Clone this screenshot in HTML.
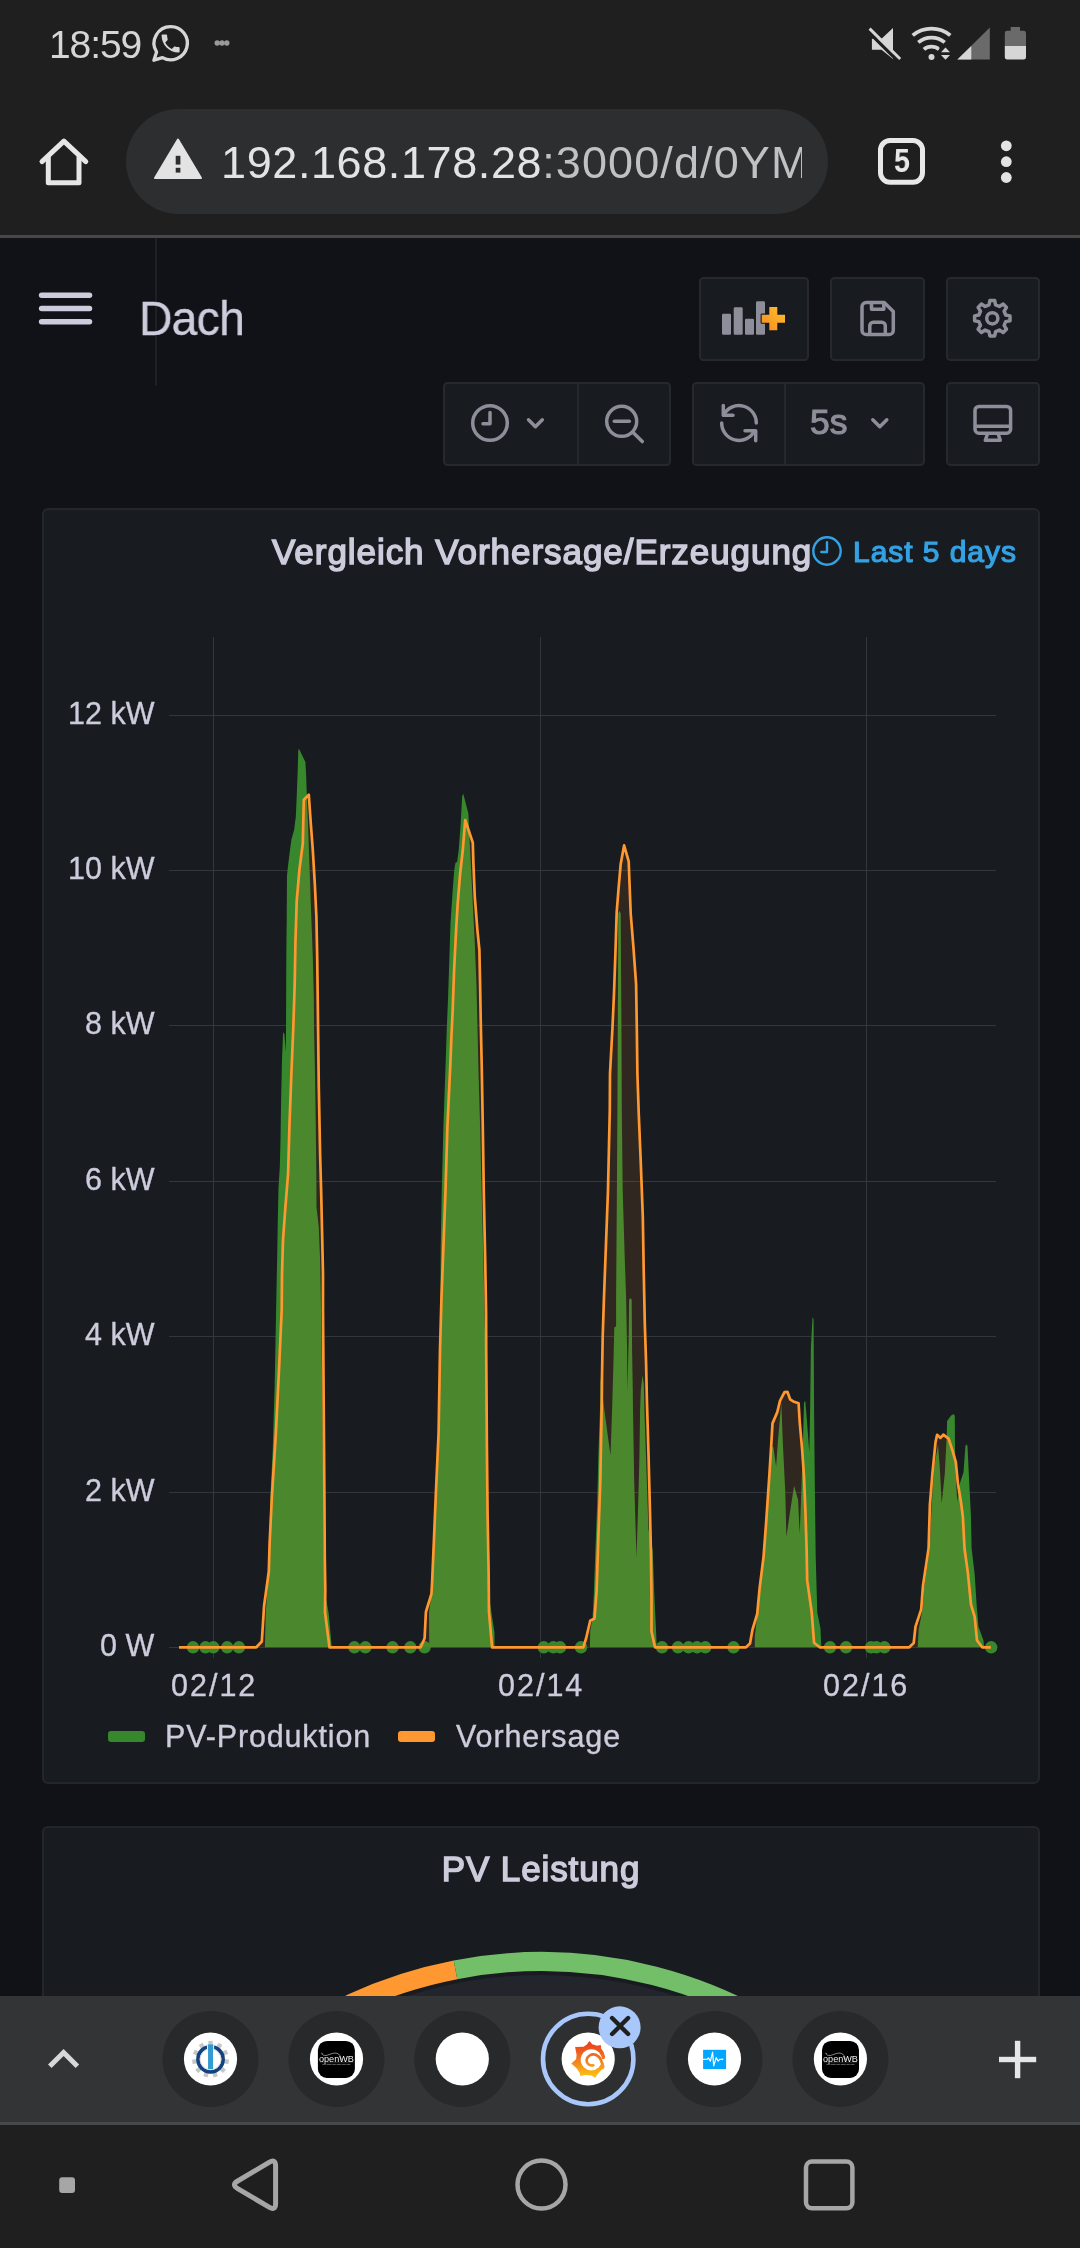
<!DOCTYPE html>
<html lang="de">
<head>
<meta charset="utf-8">
<title>Dach - Grafana</title>
<style>
html,body{margin:0;padding:0;}
body{width:1080px;height:2248px;position:relative;overflow:hidden;background:#111217;font-family:"Liberation Sans",sans-serif;color:#ccccdc;}
.abs{position:absolute;}
.t{position:absolute;white-space:nowrap;line-height:1;will-change:transform;}
.yl,.xl,#leg1,#leg2{-webkit-text-stroke:0.35px #ccccdc;}
#chrome{left:0;top:0;width:1080px;height:235px;background:#1f1f1f;}
#chromeline{left:0;top:235px;width:1080px;height:3px;background:#464746;}
#pill{left:126px;top:109px;width:702px;height:105px;border-radius:53px;background:#2d2e30;overflow:hidden;}
.btn{position:absolute;box-sizing:border-box;background:#181b1f;border:2px solid #25282e;border-radius:4.5px;}
.panel{position:absolute;box-sizing:border-box;background:#181b1f;border:2px solid #23262d;border-radius:6px;}
#tabbar{left:0;top:1996px;width:1080px;height:126px;background:#333436;}
#tabline{left:0;top:2122px;width:1080px;height:3px;background:#47484a;}
#navbar{left:0;top:2125px;width:1080px;height:123px;background:#1f1f1f;}
svg{position:absolute;left:0;top:0;overflow:visible;will-change:transform;}
</style>
</head>
<body>

<!-- ===== Browser chrome ===== -->
<div id="chrome" class="abs"></div>
<div id="chromeline" class="abs"></div>
<div id="pill" class="abs"></div>

<div class="t" id="clock" style="left:49px;top:25px;font-size:39px;color:#d6d6d6;letter-spacing:-1.1px;">18:59</div>
<div class="t" id="url" style="left:221px;top:140px;width:581px;overflow:hidden;font-size:45px;color:#e3e3e3;letter-spacing:0.6px;">192.168.178.28<span style="color:#bfc1c3;letter-spacing:1.1px;">:3000/d/0YMabc</span></div>
<div class="t" id="tabcount" style="left:886.5px;top:143.5px;width:30px;text-align:center;font-size:33px;font-weight:bold;color:#e8e8e8;transform:scaleX(0.86);">5</div>

<!-- ===== Grafana header ===== -->
<div class="abs" style="left:155px;top:238px;width:2px;height:148px;background:#1e2025;"></div>
<div class="t" id="dach" style="left:139px;top:293.5px;font-size:49px;color:#ccccdc;letter-spacing:-0.8px;-webkit-text-stroke:0.4px #ccccdc;transform:scaleX(0.945);transform-origin:0 0;">Dach</div>

<div class="btn" style="left:699px;top:277px;width:110px;height:84px;"></div>
<div class="btn" style="left:830px;top:277px;width:95px;height:84px;"></div>
<div class="btn" style="left:946px;top:277px;width:94px;height:84px;"></div>

<div class="btn" style="left:443px;top:382px;width:228px;height:84px;"></div>
<div class="abs" style="left:577px;top:384px;width:2px;height:80px;background:#25282e;"></div>
<div class="btn" style="left:692px;top:382px;width:233px;height:84px;"></div>
<div class="abs" style="left:784px;top:384px;width:2px;height:80px;background:#25282e;"></div>
<div class="btn" style="left:946px;top:382px;width:94px;height:84px;"></div>
<div class="t" id="fives" style="left:809.5px;top:405px;font-size:35.5px;color:#8d8e9a;-webkit-text-stroke:1.1px #8d8e9a;">5s</div>

<!-- ===== Panel 1 ===== -->
<div class="panel" style="left:42px;top:508px;width:998px;height:1276px;"></div>
<div class="t" id="ptitle" style="left:272px;top:534px;font-size:35px;letter-spacing:0.95px;-webkit-text-stroke:1.5px #ccccdc;color:#ccccdc;">Vergleich Vorhersage/Erzeugung</div>
<div class="t" id="last5" style="left:853px;top:537px;font-size:30px;letter-spacing:0.95px;-webkit-text-stroke:1.2px #33a2e5;color:#33a2e5;">Last 5 days</div>

<div class="t yl" style="right:926px;top:698px;font-size:30.5px;">12 kW</div>
<div class="t yl" style="right:926px;top:853px;font-size:30.5px;">10 kW</div>
<div class="t yl" style="right:926px;top:1008px;font-size:30.5px;">8 kW</div>
<div class="t yl" style="right:926px;top:1164px;font-size:30.5px;">6 kW</div>
<div class="t yl" style="right:926px;top:1319px;font-size:30.5px;">4 kW</div>
<div class="t yl" style="right:926px;top:1475px;font-size:30.5px;">2 kW</div>
<div class="t yl" style="right:926px;top:1630px;font-size:30.5px;">0 W</div>

<div class="t xl" style="left:171px;top:1670px;font-size:30.5px;letter-spacing:2px;">02/12</div>
<div class="t xl" style="left:498px;top:1670px;font-size:30.5px;letter-spacing:2px;">02/14</div>
<div class="t xl" style="left:823px;top:1670px;font-size:30.5px;letter-spacing:2px;">02/16</div>

<div class="abs" style="left:108px;top:1731px;width:36.5px;height:11px;border-radius:3px;background:#37872d;"></div>
<div class="t" id="leg1" style="left:165px;top:1721px;font-size:30.5px;letter-spacing:0.85px;">PV-Produktion</div>
<div class="abs" style="left:398px;top:1731px;width:36.5px;height:11px;border-radius:3px;background:#ff9830;"></div>
<div class="t" id="leg2" style="left:456px;top:1721px;font-size:30.5px;letter-spacing:0.9px;">Vorhersage</div>

<!-- ===== Panel 2 ===== -->
<div class="panel" style="left:42px;top:1826px;width:998px;height:400px;"></div>
<div class="t" id="p2title" style="left:341px;width:400px;text-align:center;top:1851px;font-size:35px;letter-spacing:0.9px;-webkit-text-stroke:1.5px #ccccdc;color:#ccccdc;">PV Leistung</div>

<!-- CHART-START -->
<svg id="chart" width="1080" height="2248" viewBox="0 0 1080 2248">
<g stroke="#33363a" stroke-width="1" fill="none" shape-rendering="crispEdges">
<path d="M168.5,715.5H996"/>
<path d="M168.5,870.5H996"/>
<path d="M168.5,1025.5H996"/>
<path d="M168.5,1181.5H996"/>
<path d="M168.5,1336.5H996"/>
<path d="M168.5,1492.5H996"/>
<path d="M168.5,1647.5H996"/>
<path d="M213.5,637V1658"/>
<path d="M540.5,637V1658"/>
<path d="M866.5,637V1658"/>
</g>
<g fill="#37872d">
<polygon points="264.9,1647.3 265.7,1613.5 268.5,1574.6 270.4,1496.8 272.7,1450.0 274.6,1387.8 276.1,1310.0 277.1,1260.0 277.8,1220.0 278.5,1187.0 279.8,1167.0 280.5,1140.0 281.1,1100.0 282.0,1060.0 283.1,1032.3 284.4,1034.0 285.7,1052.0 286.0,1030.0 286.3,957.0 286.7,917.0 287.0,875.5 288.0,866.0 290.0,850.0 291.4,839.5 294.1,830.0 295.8,816.8 296.7,796.8 297.7,770.0 298.3,750.0 299.1,749.1 305.4,762.0 306.1,774.0 306.8,794.0 308.0,823.5 309.4,863.5 310.8,903.6 312.8,957.0 313.8,997.0 314.1,1030.0 315.0,1073.0 315.8,1127.0 316.4,1180.0 316.5,1207.0 318.8,1227.0 320.1,1260.0 321.2,1320.0 322.5,1403.0 323.2,1496.8 323.8,1559.0 324.5,1590.0 328.7,1613.5 331.5,1644.6 331.7,1647.3"/>
<polygon points="429.2,1647.3 429.0,1612.0 431.0,1598.0 432.0,1584.5 433.8,1543.0 436.1,1488.0 438.6,1432.8 440.0,1350.0 440.5,1287.0 440.7,1247.0 441.7,1193.5 443.4,1126.8 445.4,1070.0 446.7,1030.0 448.1,997.0 449.4,957.0 450.5,923.5 452.7,890.0 454.1,871.5 455.4,862.8 457.1,862.0 458.7,850.0 460.7,823.4 462.1,796.7 463.2,793.4 468.4,813.4 468.8,823.4 469.4,836.8 470.8,863.5 472.8,903.5 474.8,943.6 476.4,983.6 477.4,1023.7 478.5,1070.0 480.1,1126.8 481.7,1193.5 483.4,1260.0 484.8,1327.0 486.0,1350.0 486.7,1446.5 487.4,1515.5 488.4,1570.7 489.5,1600.0 494.5,1632.8 494.5,1647.3"/>
<polygon points="589.9,1647.3 590.2,1631.0 592.5,1618.5 593.7,1596.5 595.4,1550.3 597.2,1504.0 598.3,1457.8 600.3,1400.0 600.4,1377.0 602.5,1395.0 604.7,1412.7 610.5,1455.5 612.1,1410.0 613.4,1363.7 614.3,1327.6 616.1,1326.3 616.1,1297.0 616.7,1216.8 617.4,1110.0 618.3,913.5 619.4,910.8 620.7,913.5 621.4,1020.0 621.8,1110.0 622.7,1190.0 624.7,1257.0 626.1,1297.0 627.1,1350.0 627.4,1391.7 628.7,1337.0 629.1,1299.6 630.3,1298.3 631.7,1299.6 632.1,1350.3 632.8,1390.4 633.0,1410.0 634.2,1481.0 636.5,1557.2 638.2,1504.0 639.4,1457.8 640.1,1410.0 640.8,1390.4 642.5,1375.3 643.8,1383.7 644.4,1410.0 648.5,1529.5 652.7,1550.0 654.4,1596.5 656.1,1631.2 656.7,1647.3"/>
<polygon points="754.8,1647.3 754.8,1636.4 757.5,1614.0 759.9,1588.4 763.9,1556.3 766.3,1524.3 769.6,1476.2 771.6,1448.0 773.3,1446.6 776.1,1466.6 778.0,1440.0 781.3,1402.5 782.9,1444.2 785.3,1492.2 786.4,1537.1 790.0,1512.0 794.1,1485.8 798.1,1500.0 799.7,1533.9 801.3,1492.0 802.9,1444.2 804.0,1402.5 805.3,1400.9 806.5,1415.0 809.3,1452.2 810.1,1412.0 810.9,1348.0 812.5,1317.3 813.6,1319.2 814.1,1412.0 814.9,1492.2 815.7,1556.3 817.3,1612.4 820.5,1628.4 821.3,1647.3"/>
<polygon points="917.7,1647.3 918.7,1629.2 922.6,1609.3 924.3,1585.6 929.8,1548.2 931.1,1517.0 932.6,1490.0 934.2,1467.2 938.0,1444.8 939.8,1467.2 941.7,1503.4 944.8,1473.5 946.7,1436.1 947.1,1421.1 951.1,1415.5 953.8,1413.9 954.8,1416.1 955.0,1449.8 956.0,1480.0 957.3,1502.1 959.8,1483.4 963.5,1472.2 965.4,1446.0 966.4,1444.2 967.5,1446.0 969.1,1479.7 971.0,1517.1 971.6,1548.2 974.7,1574.4 976.6,1604.3 978.5,1626.7 983.5,1640.4 984.1,1647.3"/>
<circle cx="193" cy="1647.3" r="6.2"/>
<circle cx="205.5" cy="1647.3" r="6.2"/>
<circle cx="213.3" cy="1647.3" r="6.2"/>
<circle cx="227.2" cy="1647.3" r="6.2"/>
<circle cx="238.9" cy="1647.3" r="6.2"/>
<circle cx="354.4" cy="1647.3" r="6.2"/>
<circle cx="365.4" cy="1647.3" r="6.2"/>
<circle cx="392.5" cy="1647.3" r="6.2"/>
<circle cx="410.3" cy="1647.3" r="6.2"/>
<circle cx="424.6" cy="1647.3" r="6.2"/>
<circle cx="543.8" cy="1647.3" r="6.2"/>
<circle cx="553.3" cy="1647.3" r="6.2"/>
<circle cx="560" cy="1647.3" r="6.2"/>
<circle cx="581" cy="1647.3" r="6.2"/>
<circle cx="662" cy="1647.3" r="6.2"/>
<circle cx="678" cy="1647.3" r="6.2"/>
<circle cx="688.5" cy="1647.3" r="6.2"/>
<circle cx="697" cy="1647.3" r="6.2"/>
<circle cx="705.3" cy="1647.3" r="6.2"/>
<circle cx="733.5" cy="1647.3" r="6.2"/>
<circle cx="830" cy="1647.3" r="6.2"/>
<circle cx="846" cy="1647.3" r="6.2"/>
<circle cx="871" cy="1647.3" r="6.2"/>
<circle cx="876.4" cy="1647.3" r="6.2"/>
<circle cx="884.4" cy="1647.3" r="6.2"/>
<circle cx="991.2" cy="1647.3" r="6.2"/>
</g>
<polygon fill="#ff9830" fill-opacity="0.1" points="179.0,1647.3 256.3,1647.3 261.8,1641.5 262.6,1629.0 264.1,1605.7 268.8,1571.5 269.6,1543.5 271.9,1496.8 275.8,1434.5 278.9,1372.0 281.7,1310.0 282.0,1273.7 283.0,1240.0 285.4,1207.0 288.1,1173.5 289.4,1127.0 291.4,1073.0 293.4,1025.0 294.7,983.7 295.4,943.6 296.7,901.0 299.4,870.0 302.8,843.5 303.8,799.8 308.8,794.8 310.8,823.5 312.8,850.0 314.8,883.5 316.4,917.0 317.2,957.0 317.7,997.0 318.1,1030.0 318.8,1086.8 320.1,1153.5 321.2,1193.6 322.1,1233.6 323.0,1273.7 323.0,1310.0 323.7,1403.0 324.4,1496.8 324.8,1559.0 325.3,1590.0 325.0,1612.0 329.5,1647.3 420.7,1647.3 424.6,1638.3 425.9,1612.0 431.4,1594.0 432.0,1584.5 433.8,1543.0 436.1,1488.0 438.6,1432.8 440.0,1350.0 441.4,1300.0 443.4,1247.0 445.4,1193.5 447.4,1126.8 450.3,1065.0 451.4,1037.0 452.7,1010.0 454.1,970.0 456.1,930.0 457.7,903.5 460.1,874.0 462.8,850.0 465.2,820.0 472.8,842.8 473.4,863.5 474.8,896.8 477.4,930.0 479.4,950.0 480.1,983.6 480.8,1023.7 481.7,1065.0 482.8,1126.8 483.8,1193.5 485.2,1260.0 486.1,1313.7 486.2,1350.0 486.9,1446.5 487.6,1515.5 488.6,1570.7 489.0,1612.0 492.1,1647.3 583.3,1647.3 586.2,1638.0 590.2,1620.8 594.5,1618.5 596.6,1590.8 598.3,1538.7 600.3,1481.0 601.8,1400.0 602.0,1377.0 602.7,1337.0 604.0,1297.0 606.0,1243.5 608.0,1190.0 609.8,1110.0 610.0,1073.7 612.5,1027.0 614.0,993.6 615.4,953.5 616.7,912.0 618.7,886.8 620.7,864.0 624.1,845.4 628.7,861.4 629.4,880.0 630.7,913.5 633.4,946.8 636.1,984.2 636.8,1027.0 637.4,1073.7 638.8,1115.0 640.8,1163.4 642.8,1216.8 643.7,1270.0 644.8,1323.6 646.1,1363.7 646.9,1400.0 648.6,1457.8 649.8,1504.0 650.9,1550.3 651.5,1596.5 651.5,1631.2 655.0,1647.3 746.0,1647.3 750.0,1643.6 752.4,1630.0 757.2,1614.0 759.6,1588.4 763.6,1556.3 766.0,1524.3 769.3,1476.2 771.3,1444.2 772.5,1423.4 777.3,1412.1 780.0,1400.9 784.5,1392.1 787.4,1391.8 790.1,1399.3 793.3,1401.4 798.6,1403.3 799.7,1421.8 802.1,1449.0 804.0,1476.2 805.3,1508.3 806.6,1548.3 807.2,1580.4 811.7,1612.4 814.1,1642.8 819.7,1647.3 909.3,1647.3 913.7,1643.0 915.5,1626.7 921.2,1609.3 923.0,1585.6 928.6,1548.2 929.9,1504.6 932.4,1473.5 935.5,1442.3 937.1,1434.8 940.5,1437.9 943.3,1434.6 948.6,1438.6 952.3,1449.8 955.8,1462.2 957.9,1483.4 961.0,1502.1 962.9,1517.1 964.5,1548.2 967.9,1573.1 971.0,1604.3 974.7,1616.8 977.0,1640.4 982.2,1647.3 990.9,1647.3"/>
<polyline fill="none" stroke="#ff9830" stroke-width="2.7" stroke-linejoin="round" stroke-linecap="butt" points="179.0,1647.3 256.3,1647.3 261.8,1641.5 262.6,1629.0 264.1,1605.7 268.8,1571.5 269.6,1543.5 271.9,1496.8 275.8,1434.5 278.9,1372.0 281.7,1310.0 282.0,1273.7 283.0,1240.0 285.4,1207.0 288.1,1173.5 289.4,1127.0 291.4,1073.0 293.4,1025.0 294.7,983.7 295.4,943.6 296.7,901.0 299.4,870.0 302.8,843.5 303.8,799.8 308.8,794.8 310.8,823.5 312.8,850.0 314.8,883.5 316.4,917.0 317.2,957.0 317.7,997.0 318.1,1030.0 318.8,1086.8 320.1,1153.5 321.2,1193.6 322.1,1233.6 323.0,1273.7 323.0,1310.0 323.7,1403.0 324.4,1496.8 324.8,1559.0 325.3,1590.0 325.0,1612.0 329.5,1647.3 420.7,1647.3 424.6,1638.3 425.9,1612.0 431.4,1594.0 432.0,1584.5 433.8,1543.0 436.1,1488.0 438.6,1432.8 440.0,1350.0 441.4,1300.0 443.4,1247.0 445.4,1193.5 447.4,1126.8 450.3,1065.0 451.4,1037.0 452.7,1010.0 454.1,970.0 456.1,930.0 457.7,903.5 460.1,874.0 462.8,850.0 465.2,820.0 472.8,842.8 473.4,863.5 474.8,896.8 477.4,930.0 479.4,950.0 480.1,983.6 480.8,1023.7 481.7,1065.0 482.8,1126.8 483.8,1193.5 485.2,1260.0 486.1,1313.7 486.2,1350.0 486.9,1446.5 487.6,1515.5 488.6,1570.7 489.0,1612.0 492.1,1647.3 583.3,1647.3 586.2,1638.0 590.2,1620.8 594.5,1618.5 596.6,1590.8 598.3,1538.7 600.3,1481.0 601.8,1400.0 602.0,1377.0 602.7,1337.0 604.0,1297.0 606.0,1243.5 608.0,1190.0 609.8,1110.0 610.0,1073.7 612.5,1027.0 614.0,993.6 615.4,953.5 616.7,912.0 618.7,886.8 620.7,864.0 624.1,845.4 628.7,861.4 629.4,880.0 630.7,913.5 633.4,946.8 636.1,984.2 636.8,1027.0 637.4,1073.7 638.8,1115.0 640.8,1163.4 642.8,1216.8 643.7,1270.0 644.8,1323.6 646.1,1363.7 646.9,1400.0 648.6,1457.8 649.8,1504.0 650.9,1550.3 651.5,1596.5 651.5,1631.2 655.0,1647.3 746.0,1647.3 750.0,1643.6 752.4,1630.0 757.2,1614.0 759.6,1588.4 763.6,1556.3 766.0,1524.3 769.3,1476.2 771.3,1444.2 772.5,1423.4 777.3,1412.1 780.0,1400.9 784.5,1392.1 787.4,1391.8 790.1,1399.3 793.3,1401.4 798.6,1403.3 799.7,1421.8 802.1,1449.0 804.0,1476.2 805.3,1508.3 806.6,1548.3 807.2,1580.4 811.7,1612.4 814.1,1642.8 819.7,1647.3 909.3,1647.3 913.7,1643.0 915.5,1626.7 921.2,1609.3 923.0,1585.6 928.6,1548.2 929.9,1504.6 932.4,1473.5 935.5,1442.3 937.1,1434.8 940.5,1437.9 943.3,1434.6 948.6,1438.6 952.3,1449.8 955.8,1462.2 957.9,1483.4 961.0,1502.1 962.9,1517.1 964.5,1548.2 967.9,1573.1 971.0,1604.3 974.7,1616.8 977.0,1640.4 982.2,1647.3 990.9,1647.3"/>
</svg>
<!-- CHART-END -->

<!-- GAUGE-START -->
<svg id="gauge" width="1080" height="2248" viewBox="0 0 1080 2248">
<circle cx="541.5" cy="2412" r="390" fill="none" stroke="#22252b" stroke-width="94"/>
<path d="M251.9,2066.9 A450.5,450.5 0 0 1 455.5,1969.8" fill="none" stroke="#ff9830" stroke-width="19"/>
<path d="M455.5,1969.8 A450.5,450.5 0 0 1 831.1,2066.9" fill="none" stroke="#73bf69" stroke-width="19"/>
</svg>
<!-- GAUGE-END -->

<!-- ===== Bottom bars ===== -->
<div id="tabbar" class="abs"></div>
<div id="tabline" class="abs"></div>
<div id="navbar" class="abs"></div>

<!-- ICONS-START -->
<svg id="icons" width="1080" height="2248" viewBox="0 0 1080 2248">
<defs><linearGradient id="pg" x1="0" y1="1" x2="1" y2="0"><stop offset="0" stop-color="#f58b1f"/><stop offset="1" stop-color="#fdc12f"/></linearGradient><linearGradient id="gg" x1="0" y1="0" x2="0" y2="1"><stop offset="0" stop-color="#ef4e23"/><stop offset="0.55" stop-color="#f78d1e"/><stop offset="1" stop-color="#fcd20b"/></linearGradient></defs>
<g><path d="M170.8,26.6a16.6,16.6 0 1 1 -8.3,31l-8.6,2.6 2.7,-8.2a16.6,16.6 0 0 1 14.2,-25.4z" fill="none" stroke="#d6d6d6" stroke-width="3.3" stroke-linejoin="round"/><path transform="translate(158.6,31.6) scale(1)" fill="#d6d6d6" d="M6.62 10.79c1.44 2.83 3.76 5.14 6.59 6.59l2.2-2.2c.27-.27.67-.36 1.02-.24 1.12.37 2.33.57 3.57.57.55 0 1 .45 1 1V20c0 .55-.45 1-1 1-9.39 0-17-7.61-17-17 0-.55.45-1 1-1h3.5c.55 0 1 .45 1 1 0 1.25.2 2.45.57 3.57.11.35.03.74-.25 1.02l-2.2 2.2z"/></g>
<g fill="#9a9a9a"><circle cx="217.2" cy="43" r="2.7"/><circle cx="222" cy="43" r="2.7"/><circle cx="226.8" cy="43" r="2.7"/></g>
<g><polygon fill="#d6d6d6" points="871.9,38.7 881.5,38.7 893,27.9 893,59 881.5,49.8 871.9,49.8"/><path d="M867.7,31L898.4,61.5" stroke="#1f1f1f" stroke-width="3.2"/><path d="M869.6,28.6L900.2,59" stroke="#d6d6d6" stroke-width="2.9"/></g>
<g fill="none" stroke="#d6d6d6" stroke-width="3.8"><path d="M912.7,35.4A29.5,29.5 0 0 1 950.3,35.4"/><path d="M918.3,42.4A20.6,20.6 0 0 1 944.7,42.4"/><path d="M923.9,49.4A11.6,11.6 0 0 1 939.1,49.4"/></g>
<circle cx="931.5" cy="57" r="3" fill="#d6d6d6"/>
<rect x="939.5" y="45.5" width="13" height="16" fill="#1f1f1f"/>
<polygon fill="#d6d6d6" points="941,52.3 950,52.3 945.5,47.6"/><polygon fill="#d6d6d6" points="941,55 950,55 945.5,59.7"/>
<polygon fill="#6a6a6a" points="957.4,59.6 989.8,59.6 989.8,27.6"/><polygon fill="#d6d6d6" points="957.4,59.6 971.3,59.6 971.3,45.9"/>
<path fill="#6a6a6a" d="M1010.7,27h9.3v3.7h3.6a2.4,2.4 0 0 1 2.4,2.4V46.1H1004.8V33.1a2.4,2.4 0 0 1 2.4,-2.4h3.5z"/><path fill="#d6d6d6" d="M1004.8,46.1H1026V57.2a2.4,2.4 0 0 1 -2.4,2.4H1007.2a2.4,2.4 0 0 1 -2.4,-2.4z"/>
<g fill="none" stroke="#e6e6e6" stroke-width="5" stroke-linecap="round" stroke-linejoin="round"><path d="M42,161.6L63.9,141.2L85.8,161.6"/><path d="M48.3,157.5V182.7H79V157.5"/></g>
<path fill="#e3e3e3" stroke="#e3e3e3" stroke-width="2" stroke-linejoin="round" d="M178,139.5L201,177.9H155z"/><rect x="175.7" y="155.8" width="4.7" height="8.8" fill="#2d2e30"/><rect x="175.7" y="167.8" width="4.7" height="4.8" fill="#2d2e30"/>
<rect x="880.5" y="140.6" width="42" height="41.6" rx="9.5" fill="none" stroke="#e8e8e8" stroke-width="5"/>
<g fill="#e3e3e3"><circle cx="1006.3" cy="145.8" r="5.4"/><circle cx="1006.3" cy="161.7" r="5.4"/><circle cx="1006.3" cy="177.5" r="5.4"/></g>
<g stroke="#ccccdc" stroke-width="5.5" stroke-linecap="round"><path d="M41.6,295.3H89.5"/><path d="M41.6,308.6H89.5"/><path d="M41.6,321.8H89.5"/></g>
<g fill="#8d8e9a"><rect x="722" y="313.7" width="9" height="21" rx="1.3"/><rect x="733.7" y="307.3" width="9" height="27.4" rx="1.3"/><rect x="745" y="318.7" width="9" height="16" rx="1.3"/><rect x="756" y="301.3" width="9" height="33.4" rx="1.3"/></g>
<path d="M769.3,307h8v7.7h7.7v8h-7.7v7.6h-8v-7.6h-7.6v-8h7.6z" fill="url(#pg)" stroke="#181b1f" stroke-width="2.2" stroke-linejoin="round" paint-order="stroke"/>
<g fill="none" stroke="#8d8e9a" stroke-width="3.5" stroke-linejoin="round" stroke-linecap="round"><path d="M866.3,302.5H884.2L893.3,311.6V330.2a4.3,4.3 0 0 1 -4.3,4.3H866.3a4.3,4.3 0 0 1 -4.3,-4.3V306.8a4.3,4.3 0 0 1 4.3,-4.3z"/><path d="M871.5,302.8V309.3H883.8V302.8"/><path d="M869.8,334.3V325.8a3.5,3.5 0 0 1 3.5,-3.5h8.5a3.5,3.5 0 0 1 3.5,3.5V334.3"/></g>
<path d="M989,304.9 L989.9,300.6 L994.7,300.6 L995.6,304.9 L999.4,306.5 L1003.2,304.1 L1006.5,307.4 L1004.1,311.2 L1005.7,315 L1010,315.9 L1010,320.7 L1005.7,321.6 L1004.1,325.4 L1006.5,329.2 L1003.2,332.5 L999.4,330.1 L995.6,331.7 L994.7,336 L989.9,336 L989,331.7 L985.2,330.1 L981.4,332.5 L978.1,329.2 L980.5,325.4 L978.9,321.6 L974.6,320.7 L974.6,315.9 L978.9,315 L980.5,311.2 L978.1,307.4 L981.4,304.1 L985.2,306.5Z" fill="none" stroke="#8d8e9a" stroke-width="3.5" stroke-linejoin="round"/><circle cx="992.3" cy="318.3" r="5.6" fill="none" stroke="#8d8e9a" stroke-width="3.5"/>
<g fill="none" stroke="#8d8e9a" stroke-width="3.5" stroke-linecap="round" stroke-linejoin="round"><circle cx="490" cy="423" r="17.3"/><path d="M490,412.5V423.8H483"/><path d="M528.5,419.8L535.4,426.7L542.3,419.8"/>
<circle cx="621.7" cy="421.3" r="15"/><path d="M614.3,421.3H629.3"/><path d="M632.8,432.3L642.3,441.6"/>
<path d="M723.6,415A17.3,17.3 0 0 1 756.3,423"/><path d="M723.3,405.6V415.3H733"/><path d="M721.7,423A17.3,17.3 0 0 0 754.4,431"/><path d="M745,430.7H755.7V440.8"/>
<path d="M872.8,419.8L879.8,426.7L886.8,419.8"/>
<rect x="975" y="406.4" width="35.6" height="26.8" rx="4"/><path d="M975,426.3H1010.6" stroke-linecap="butt"/><path d="M987.3,434.5L985.3,440.3H1000.3L998.3,434.5"/></g>
<g fill="none" stroke="#33a2e5" stroke-width="2.4" stroke-linecap="round" stroke-linejoin="round"><circle cx="827" cy="551" r="13.7"/><path d="M827,542.3V552H821.3"/></g>
<path d="M49.8,2066.3L63.6,2052.5L77.4,2066.3" fill="none" stroke="#d8d8d8" stroke-width="5"/>
<circle cx="210.5" cy="2059" r="48" fill="#28292b"/><circle cx="210.5" cy="2059" r="26.6" fill="#fff"/>
<circle cx="336.5" cy="2059" r="48" fill="#28292b"/><circle cx="336.5" cy="2059" r="26.6" fill="#fff"/>
<circle cx="462.3" cy="2059" r="48" fill="#28292b"/><circle cx="462.3" cy="2059" r="26.6" fill="#fff"/>
<circle cx="714.5" cy="2059" r="48" fill="#28292b"/><circle cx="714.5" cy="2059" r="26.6" fill="#fff"/>
<circle cx="840.4" cy="2059" r="48" fill="#28292b"/><circle cx="840.4" cy="2059" r="26.6" fill="#fff"/>
<circle cx="588.2" cy="2059" r="45.2" fill="#2e2f31" stroke="#a8c7fa" stroke-width="4.6"/><circle cx="588.2" cy="2059" r="26.6" fill="#fff"/>
<circle cx="619.6" cy="2027.3" r="21" fill="#a8c7fa"/><path d="M612.1,2018L628.1,2034M628.1,2018L612.1,2034" stroke="#1f1f1f" stroke-width="4.4" stroke-linecap="round"/>
<rect x="208.35" y="2040.9" width="4.4" height="4.6" fill="#c6c6c6" transform="rotate(0 210.55 2059.3)"/>
<rect x="208.35" y="2040.9" width="4.4" height="4.6" fill="#c6c6c6" transform="rotate(32.73 210.55 2059.3)"/>
<rect x="208.35" y="2040.9" width="4.4" height="4.6" fill="#c6c6c6" transform="rotate(65.45 210.55 2059.3)"/>
<rect x="208.35" y="2040.9" width="4.4" height="4.6" fill="#c6c6c6" transform="rotate(98.18 210.55 2059.3)"/>
<rect x="208.35" y="2040.9" width="4.4" height="4.6" fill="#c6c6c6" transform="rotate(130.91 210.55 2059.3)"/>
<rect x="208.35" y="2040.9" width="4.4" height="4.6" fill="#c6c6c6" transform="rotate(163.64 210.55 2059.3)"/>
<rect x="208.35" y="2040.9" width="4.4" height="4.6" fill="#c6c6c6" transform="rotate(196.36 210.55 2059.3)"/>
<rect x="208.35" y="2040.9" width="4.4" height="4.6" fill="#c6c6c6" transform="rotate(229.09 210.55 2059.3)"/>
<rect x="208.35" y="2040.9" width="4.4" height="4.6" fill="#c6c6c6" transform="rotate(261.82 210.55 2059.3)"/>
<rect x="208.35" y="2040.9" width="4.4" height="4.6" fill="#c6c6c6" transform="rotate(294.55 210.55 2059.3)"/>
<rect x="208.35" y="2040.9" width="4.4" height="4.6" fill="#c6c6c6" transform="rotate(327.27 210.55 2059.3)"/>
<circle cx="210.55" cy="2059.3" r="12.6" fill="#fff" stroke="#12437f" stroke-width="3.6"/><circle cx="210.55" cy="2059.3" r="10.5" fill="none" stroke="#c8c8c8" stroke-width="0.7"/>
<rect x="206.95" y="2044" width="7.2" height="5.6" fill="#e6e6e6"/><rect x="208.05" y="2044.3" width="5" height="24.7" fill="#339bd2"/>
<rect x="317.9" y="2040.9" width="37" height="37" rx="9" fill="#000"/><text x="336.4" y="2061.8" font-family="Liberation Sans, sans-serif" font-size="9.1" fill="#eee" text-anchor="middle">openWB</text><path d="M321.1,2053.6c0.8,-1 1.8,-0.2 1.2,0.7c1,1.3 3,1.5 5.3,0.8c3.5,-1.2 6.5,-2.6 9.5,-1.8c2.6,0.8 3.6,3.3 4.2,6.5" fill="none" stroke="#ddd" stroke-width="0.6"/><path d="M319.4,2062.6H353.4" stroke="#444" stroke-width="0.5"/><path d="M322.4,2064.4H350.4" stroke="#7a7a7a" stroke-width="0.8" stroke-dasharray="3.5 0.7 5 0.7"/>
<rect x="822" y="2040.9" width="37" height="37" rx="9" fill="#000"/><text x="840.5" y="2061.8" font-family="Liberation Sans, sans-serif" font-size="9.1" fill="#eee" text-anchor="middle">openWB</text><path d="M825.2,2053.6c0.8,-1 1.8,-0.2 1.2,0.7c1,1.3 3,1.5 5.3,0.8c3.5,-1.2 6.5,-2.6 9.5,-1.8c2.6,0.8 3.6,3.3 4.2,6.5" fill="none" stroke="#ddd" stroke-width="0.6"/><path d="M823.5,2062.6H857.5" stroke="#444" stroke-width="0.5"/><path d="M826.5,2064.4H854.5" stroke="#7a7a7a" stroke-width="0.8" stroke-dasharray="3.5 0.7 5 0.7"/>
<linearGradient id="gg2" gradientUnits="userSpaceOnUse" x1="0" y1="2041" x2="0" y2="2078"><stop offset="0" stop-color="#e8391c"/><stop offset="0.5" stop-color="#f27a1f"/><stop offset="1" stop-color="#fccb12"/></linearGradient>
<path d="M589.4,2040.9 L592.2,2044.3 L596.9,2045.7 L600.8,2045 L601.2,2048.4 L603.7,2052.3 L605.1,2056.8 L604.6,2058.7 L603.3,2062.3 L604.7,2067.3 L600.8,2070.4 L597.7,2074 L595.2,2077.9 L591.3,2075.4 L585.2,2075 L580.2,2075.9 L579.4,2072.3 L576.3,2067.9 L571.3,2063.4 L576.1,2059.3 L576.6,2055.1 L575.1,2047.1 L583.6,2046.8 L586.9,2044.6Z" fill="url(#gg2)"/>
<circle cx="591.3" cy="2059.8" r="10.6" fill="#fff"/>
<path d="M601.1,2059 L604.9,2058.9 L605.3,2060.1 L603.4,2062.4 L601.3,2063.2Z" fill="#fff"/>
<path d="M602.7,2067.9 C602.4,2062.3 600.2,2056.8 595.8,2054.8 C591.3,2053.4 586.9,2056.2 586.6,2060.4 C586.6,2063.4 589.1,2065.9 593.3,2065.4" fill="none" stroke="url(#gg2)" stroke-width="2.6" stroke-linecap="round"/>
<rect x="703.1" y="2049.8" width="23" height="19.2" fill="#00a6ff"/><polyline points="703.1,2059.4 707.1,2059.4 708.4,2057.9 710.4,2061.2 712.6,2052.1 713.7,2065.9 716.2,2057.6 718.2,2061.2 719.6,2059.4 722.9,2059.4" fill="none" stroke="#fff" stroke-width="1.2" stroke-linejoin="round"/><circle cx="722.6" cy="2059.4" r="0.8" fill="#fff"/>
<rect x="999" y="2056.8" width="37.2" height="5.4" fill="#e6e6e6"/><rect x="1014.9" y="2040.8" width="5.4" height="37.4" fill="#e6e6e6"/>
<rect x="59.2" y="2177.2" width="15.8" height="15.8" rx="3" fill="#a6a6a6"/>
<g fill="none" stroke="#a6a6a6" stroke-width="4.5" stroke-linejoin="round"><path d="M237.7,2188.6 Q231.2,2184.8 237.7,2181 L269.1,2162.4 Q275.6,2158.6 275.6,2166.1 L275.6,2203.5 Q275.6,2211 269.1,2207.2Z" stroke-width="5"/><circle cx="541.5" cy="2184.5" r="24"/><rect x="806" y="2161.5" width="46.4" height="46.8" rx="6"/></g>
</svg>
<!-- ICONS-END -->

</body>
</html>
